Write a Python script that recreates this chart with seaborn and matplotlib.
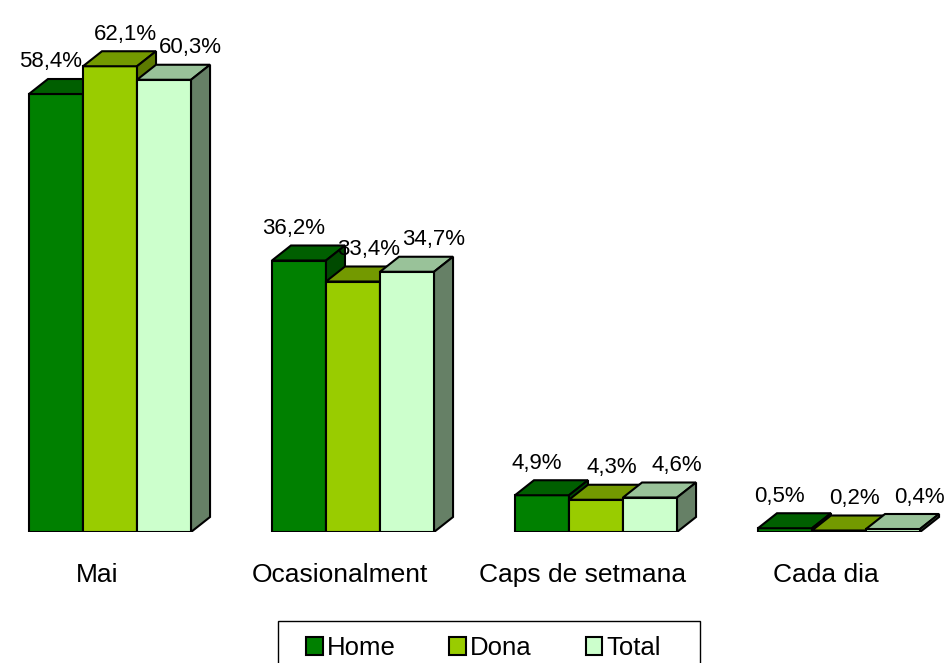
import numpy as np
import pandas as pd
import seaborn as sns
import matplotlib
matplotlib.use("Agg")
import matplotlib.pyplot as plt
from matplotlib.patches import Polygon, Rectangle, Patch
from matplotlib.transforms import ScaledTranslation

categories = ["Mai", "Ocasionalment", "Caps de setmana", "Cada dia"]
series = ["Home", "Dona", "Total"]
home = [58.4, 36.2, 4.9, 0.5]
dona = [62.1, 33.4, 4.3, 0.2]
total = [60.3, 34.7, 4.6, 0.4]

front_colors = ["#008000", "#99CC00", "#CCFFCC"]
top_colors = ["#005F00", "#739900", "#99C299"]
side_colors = ["#004A00", "#5C7A00", "#668066"]

rows = []
for s, vals in zip(series, [home, dona, total]):
    for c, v in zip(categories, vals):
        rows.append({"cat": c, "serie": s, "val": v})
df = pd.DataFrame(rows)

sns.set_style("white")
plt.rcParams["font.family"] = ["Liberation Sans", "DejaVu Sans"]
plt.rcParams["text.color"] = "black"
plt.rcParams["xtick.color"] = "black"

W, H, DPI = 953, 663, 100
fig = plt.figure(figsize=(W / DPI, H / DPI), dpi=DPI)
base_px = 532
ax = fig.add_axes([0, (H - base_px) / H, 1, base_px / H])

LW = 1.5
sns.barplot(data=df, x="cat", y="val", hue="serie", order=categories,
            hue_order=series, palette=front_colors, saturation=1,
            width=0.667, edgecolor="black", linewidth=LW, legend=False,
            errorbar=None, ax=ax)

px_per_x = 243.0
px_per_y = 7.5
ax.set_xlim(-110 / px_per_x, (W - 110) / px_per_x)
ax.set_ylim(0, base_px / px_per_y)

dx = 19 / px_per_x
dy = 15 / px_per_y
lbl_dx_px = [-15, 6, 17]
lbl_dy_px = 17

for j, cont in enumerate(ax.containers):
    for c, p in enumerate(cont.patches):
        z = 2 + c * 3 + j
        p.set_zorder(z)
        x0, w, h = p.get_x(), p.get_width(), p.get_height()
        top = Polygon([(x0, h), (x0 + dx, h + dy), (x0 + w + dx, h + dy), (x0 + w, h)],
                      closed=True, fc=top_colors[j], ec="black", lw=LW, zorder=z,
                      joinstyle="miter")
        side = Polygon([(x0 + w, 0), (x0 + w + dx, dy), (x0 + w + dx, h + dy), (x0 + w, h)],
                       closed=True, fc=side_colors[j], ec="black", lw=LW, zorder=z,
                       joinstyle="miter")
        ax.add_patch(top)
        ax.add_patch(side)
        txt = f"{h:.1f}".replace(".", ",") + "%"
        ax.annotate(txt, xy=(x0 + w / 2 + dx / 2, h + dy),
                    xytext=(lbl_dx_px[j] * 72 / DPI, lbl_dy_px * 72 / DPI),
                    textcoords="offset points", ha="center", va="center",
                    fontsize=16, color="black", zorder=50)

ax.set_xticks(range(len(categories)))
ax.set_xticklabels(categories, fontsize=19, color="black")
ax.tick_params(axis="x", length=0, pad=22)
shift = ScaledTranslation(-13 / DPI, 0, fig.dpi_scale_trans)
for lab in ax.get_xticklabels():
    lab.set_transform(lab.get_transform() + shift)
ax.set_yticks([])
ax.set_xlabel("")
ax.set_ylabel("")
for sp in ax.spines.values():
    sp.set_visible(False)

handles = [Patch(fc=c, ec="black", lw=LW) for c in front_colors]
leg = fig.legend(handles, series, ncol=3, frameon=False, loc="upper left",
                 bbox_to_anchor=(306 / W, (H - 636) / H), fontsize=18.5,
                 handlelength=0.65, handleheight=0.65, handletextpad=0.15,
                 columnspacing=2.1, borderpad=0, borderaxespad=0)
for t in leg.get_texts():
    t.set_color("black")
fig.add_artist(Rectangle((278 / W, -0.02), (700 - 278) / W, (H - 621) / H + 0.02,
                         transform=fig.transFigure, fill=False, ec="black", lw=1))

fig.savefig("out.png", dpi=DPI, facecolor="white")
